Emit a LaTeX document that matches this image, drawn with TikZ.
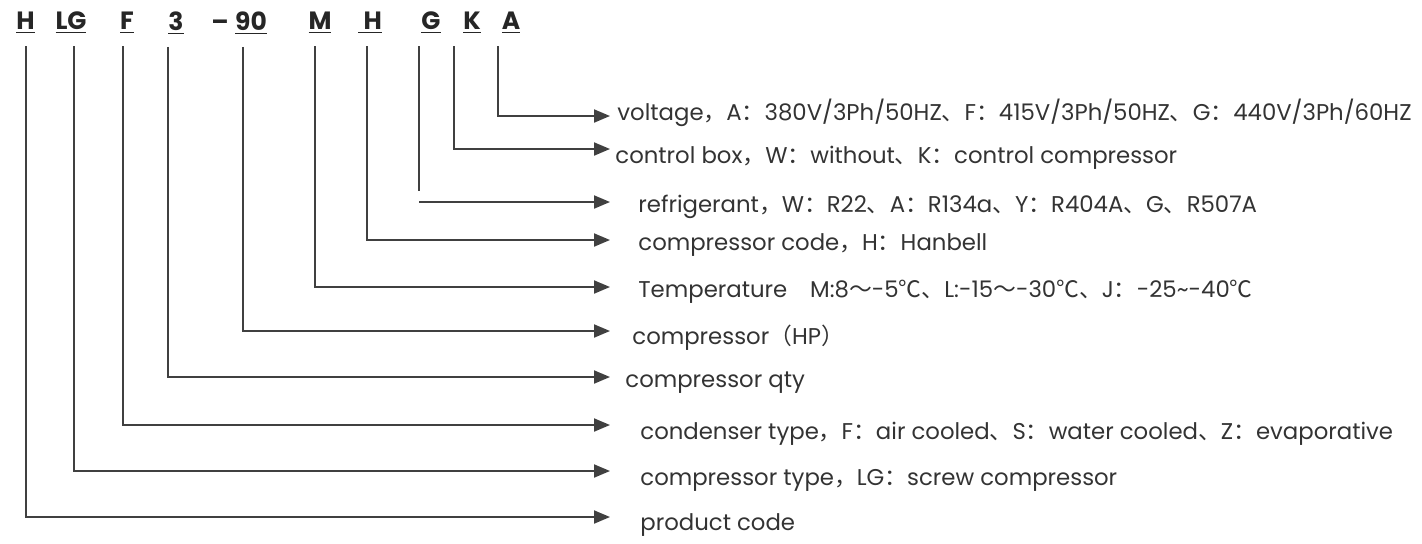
\documentclass[tikz,border=0pt]{standalone}
\usepackage{fontspec}
\setmainfont{Poppins}
\newfontfamily\cjk{Noto Sans CJK SC}
\usetikzlibrary{arrows.meta,positioning}

\newcommand\zc{{\cjk ，}}
\newcommand\zd{{\cjk 、}}
\newcommand\zk{{\cjk ：}}

\begin{document}
\begin{tikzpicture}[x=0.5pt,y=-0.5pt,>={Triangle[length=8pt,width=6.5pt]},
  code/.style={font=\bfseries\fontsize{12.5}{14}\selectfont,inner sep=0pt,text=black!85},
  desc/.style={font=\fontsize{11.4}{13}\selectfont,inner sep=0pt,text=black!80},
  conn/.style={->,line width=1pt,draw=black!75,shorten <=6pt},
  plain/.style={line width=1pt,draw=black!75,shorten <=6pt}]

\useasboundingbox (0,0) rectangle (1422,543);

% code letters
\node[code] (lH)  at (25.5,23) {\underline{H}};
\node[code] (lLG) at (71,23)   {\underline{LG}};
\node[code] (lF)  at (127,23)  {\underline{F}};
\node[code] (l3)  at (176,23)  {\underline{3}};
\node[code] (dash) at (220,25) {--};
\node[code] (l90) at (251,23)  {\underline{90}};
\node[code] (lM)  at (320,23)  {\underline{M}};
\node[code] (lH2) at (370,23)  {\underline{\ H}};
\node[code] (lG)  at (431,23)  {\underline{G}};
\node[code] (lK)  at (472,23)  {\underline{K}};
\node[code] (lA)  at (511,23)  {\underline{A}};

% arrow ends
\coordinate (tA)  at (610,116);
\coordinate (tK)  at (610,149);
\coordinate (tG)  at (610,202);
\coordinate (tH2) at (610,240);
\coordinate (tM)  at (610,287);
\coordinate (t90) at (610,331);
\coordinate (t3)  at (610,377);
\coordinate (tF)  at (610,425);
\coordinate (tLG) at (610,471);
\coordinate (tH)  at (610,517);

% descriptions
\node[desc,right=3.5pt of tA,yshift=1.5pt] (dA) {voltage\zc A\zk 380V/3Ph/50HZ\zd F\zk 415V/3Ph/50HZ\zd G\zk 440V/3Ph/60HZ};
\node[desc,right=2.5pt of tK,yshift=-4.5pt] (dK) {control box\zc W\zk without\zd K\zk control compressor};
\node[desc,right=14pt of tG,yshift=-2.5pt] (dG) {refrigerant\zc W\zk R22\zd A\zk R134a\zd Y\zk R404A\zd G\zd R507A};
\node[desc,right=14pt of tH2,yshift=-2.5pt] (dH2) {compressor code\zc H\zk Hanbell};
\node[desc,right=14pt of tM,yshift=-2.5pt] (dM) {Temperature\quad M:8{\cjk ～}-5{\cjk ℃}\zd L:-15{\cjk ～}-30{\cjk ℃}\zd J\zk -25\textasciitilde-40{\cjk ℃}};
\node[desc,right=11pt of t90,yshift=-3.5pt] (d90) {compressor{\cjk （}HP{\cjk ）}};
\node[desc,right=7.5pt of t3,yshift=-3pt] (d3) {compressor qty};
\node[desc,right=15pt of tF,yshift=-4.5pt] (dF) {condenser type\zc F\zk air cooled\zd S\zk water cooled\zd Z\zk evaporative};
\node[desc,right=15pt of tLG,yshift=-4.5pt] (dLG) {compressor type\zc LG\zk screw compressor};
\node[desc,right=15pt of tH,yshift=-4pt] (dH) {product code};

% connectors
\draw[conn] ([xshift=-6.5pt]lA.south) |- (tA);
\draw[conn] ([xshift=-9pt]lK.south) |- (tK);
\coordinate (gG) at ([xshift=-6pt]lG.south);
\draw[plain] (gG) -- ([yshift=5.5pt]gG |- tG);
\draw[->,line width=1pt,draw=black!75] (gG |- tG) -- (tG);
\draw[conn] ([xshift=-1.5pt]lH2.south) |- (tH2);
\draw[conn] ([xshift=-2.5pt]lM.south) |- (tM);
\draw[conn] ([xshift=-4pt]l90.south) |- (t90);
\draw[conn] ([xshift=-4pt]l3.south) |- (t3);
\draw[conn] ([xshift=-2pt]lF.south) |- (tF);
\draw[conn] ([xshift=1.5pt]lLG.south) |- (tLG);
\draw[conn] (lH.south) |- (tH);

\end{tikzpicture}
\end{document}
